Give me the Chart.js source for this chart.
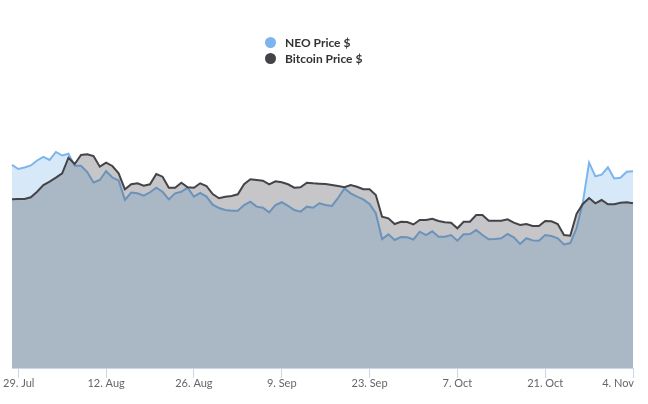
<!DOCTYPE html>
<html>
<head>
<meta charset="utf-8">
<script src="https://cdn.jsdelivr.net/npm/chart.js@4.4.1/dist/chart.umd.min.js"></script>
<style>
  body { margin: 0; background: #ffffff; font-family: Lato, "Open Sans", sans-serif; }
  .chart-wrap { position: relative; width: 648px; height: 404px; }
  #legend { position: absolute; top: 35px; left: 265px; }
  .legend-item { display: flex; align-items: center; height: 15.5px; font-size: 12px; font-weight: bold; color: #333333; }
  .legend-dot { width: 11px; height: 11px; border-radius: 50%; margin-right: 9px; }
</style>
</head>
<body>
<div class="chart-wrap">
  <canvas id="priceChart" width="648" height="404"></canvas>
  <div id="legend"></div>
</div>
<script>
  // Data (daily, starting 28 Jul 2019)
  const startDate = new Date(2019, 6, 28);
  const tickLabels = ['29. Jul', '12. Aug', '26. Aug', '9. Sep', '23. Sep', '7. Oct', '21. Oct', '4. Nov'];

  const neoPrice = [
    11.44, 11.21, 11.30, 11.41, 11.69, 11.89, 11.72, 12.17, 11.97, 12.07,
    11.39, 11.39, 11.04, 10.45, 10.59, 11.10, 10.73, 10.57, 9.47, 9.88,
    9.84, 9.71, 9.90, 10.16, 9.93, 9.50, 9.84, 9.93, 10.16, 9.65,
    9.86, 9.66, 9.20, 9.01, 8.90, 8.86, 8.86, 9.18, 9.37, 9.09,
    9.03, 8.77, 9.18, 9.34, 9.14, 8.90, 8.81, 9.09, 9.03, 9.28,
    9.18, 9.13, 9.59, 10.12, 9.84, 9.65, 9.50, 9.24, 8.72, 7.27,
    7.53, 7.21, 7.38, 7.36, 7.24, 7.68, 7.49, 7.70, 7.40, 7.40,
    7.49, 7.17, 7.53, 7.55, 7.77, 7.49, 7.25, 7.27, 7.31, 7.55,
    7.36, 6.99, 7.31, 7.19, 7.17, 7.49, 7.44, 7.31, 6.96, 7.04,
    7.87, 9.32, 11.57, 10.80, 10.89, 11.31, 10.68, 10.72, 11.06, 11.08
  ];

  const bitcoinPrice = [
    9505, 9521, 9521, 9617, 9933, 10310, 10496, 10722, 10969, 11848,
    11493, 12000, 12040, 11944, 11341, 11567, 11381, 10969, 10068, 10350,
    10406, 10271, 10350, 10930, 10778, 10158, 10158, 10440, 10181, 10158,
    10406, 10254, 9803, 9561, 9651, 9690, 9786, 10350, 10631, 10592,
    10552, 10350, 10519, 10462, 10350, 10158, 10181, 10440, 10406, 10383,
    10367, 10310, 10254, 10181, 10310, 10214, 10068, 10068, 9747, 8524,
    8434, 8113, 8242, 8226, 8085, 8338, 8338, 8412, 8282, 8209,
    8186, 7871, 8242, 8242, 8620, 8620, 8299, 8299, 8299, 8378,
    8186, 8057, 8113, 8000, 8000, 8282, 8265, 8113, 7493, 7454,
    8676, 9240, 9578, 9279, 9465, 9223, 9223, 9313, 9336, 9279
  ];

  const monthNames = ['Jan', 'Feb', 'Mar', 'Apr', 'May', 'Jun', 'Jul', 'Aug', 'Sep', 'Oct', 'Nov', 'Dec'];

  // Build day labels like "29. Jul"
  function buildDayLabels(count) {
    const labels = [];
    for (let i = 0; i < count; i++) {
      const d = new Date(startDate.getFullYear(), startDate.getMonth(), startDate.getDate() + i);
      labels.push(d.getDate() + '. ' + monthNames[d.getMonth()]);
    }
    return labels;
  }

  const dayLabels = buildDayLabels(neoPrice.length);

  // Draw x tick labels, keeping the edge ones inside the canvas
  const xLabelsPlugin = {
    id: 'xLabels',
    afterDraw(chart) {
      const ctx = chart.ctx;
      const scale = chart.scales.x;
      ctx.save();
      ctx.font = '11px Lato, "Open Sans", sans-serif';
      ctx.fillStyle = '#666666';
      ctx.textBaseline = 'middle';
      ctx.textAlign = 'left';
      scale.ticks.forEach(tick => {
        const text = dayLabels[tick.value];
        const w = ctx.measureText(text).width;
        let x = scale.getPixelForValue(tick.value) - w / 2;
        x = Math.max(3, Math.min(x, chart.width - 14 - w));
        ctx.fillText(text, x, 383);
      });
      ctx.restore();
    }
  };

  // Build HTML legend
  function buildLegend(chart) {
    const legend = document.getElementById('legend');
    legend.innerHTML = '';
    chart.data.datasets.forEach(ds => {
      const item = document.createElement('div');
      item.className = 'legend-item';
      const dot = document.createElement('span');
      dot.className = 'legend-dot';
      dot.style.background = ds.borderColor;
      const label = document.createElement('span');
      label.textContent = ds.label;
      item.appendChild(dot);
      item.appendChild(label);
      legend.appendChild(item);
    });
  }

  document.addEventListener('DOMContentLoaded', function() {
    const ctx = document.getElementById('priceChart').getContext('2d');

    const chart = new Chart(ctx, {
      type: 'line',
      data: {
        labels: dayLabels,
        datasets: [
          {
            label: 'NEO Price $',
            data: neoPrice,
            yAxisID: 'yNeo',
            borderColor: '#7cb5ec',
            backgroundColor: 'rgba(124, 181, 236, 0.3)',
            borderWidth: 2,
            pointRadius: 0,
            tension: 0,
            fill: 'origin',
            order: 1
          },
          {
            label: 'Bitcoin Price $',
            data: bitcoinPrice,
            yAxisID: 'yBtc',
            borderColor: '#434348',
            backgroundColor: 'rgba(67, 67, 72, 0.3)',
            borderWidth: 2,
            pointRadius: 0,
            tension: 0,
            fill: 'origin',
            order: 0
          }
        ]
      },
      options: {
        responsive: false,
        animation: false,
        layout: {
          padding: { left: 12, right: 15, top: 84, bottom: 0 }
        },
        plugins: {
          legend: { display: false },
          tooltip: { enabled: false }
        },
        scales: {
          x: {
            type: 'category',
            offset: false,
            afterBuildTicks: scale => {
              scale.ticks = scale.ticks.filter(t => tickLabels.includes(dayLabels[t.value]));
            },
            afterFit: scale => {
              scale.height = 36;
              scale.paddingLeft = 0;
              scale.paddingRight = 0;
            },
            ticks: { display: false, autoSkip: false },
            grid: {
              display: true,
              drawOnChartArea: false,
              drawTicks: true,
              tickLength: 10,
              color: '#ccd6eb'
            },
            border: { display: true, color: '#ccd6eb', width: 1 }
          },
          yNeo: {
            display: false,
            min: 0,
            max: 16
          },
          yBtc: {
            display: false,
            min: 0,
            max: 16000
          }
        }
      },
      plugins: [xLabelsPlugin]
    });

    buildLegend(chart);
  });
</script>
</body>
</html>
